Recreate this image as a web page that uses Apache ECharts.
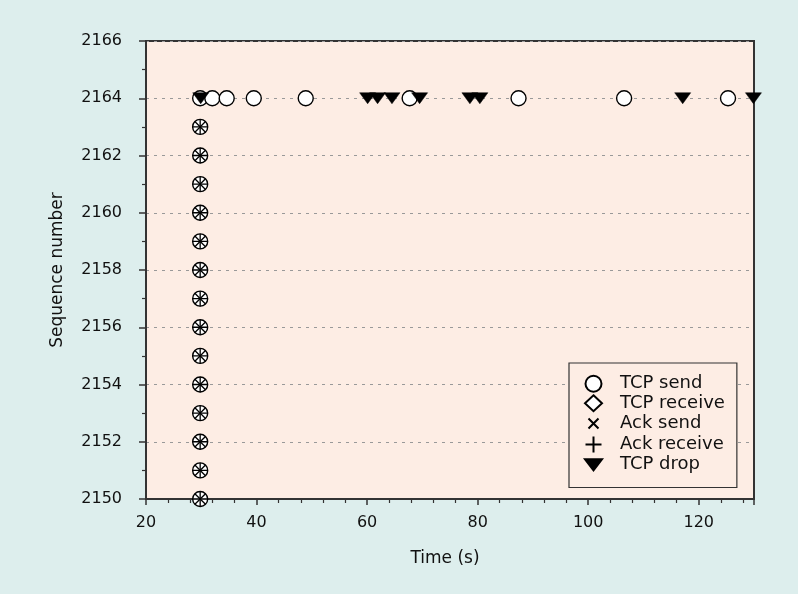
<!DOCTYPE html>
<html>
<head>
<meta charset="utf-8">
<script src="https://cdn.jsdelivr.net/npm/echarts@6/dist/echarts.min.js"></script>
<style>
html,body{margin:0;padding:0;background:#ddeeed;}
#chart{width:798px;height:594px;}
</style>
</head>
<body>
<div id="chart"></div>
<script>
// Data
var columnTime = 29.8;
var columnSeqs = [2150, 2151, 2152, 2153, 2154, 2155, 2156, 2157, 2158, 2159, 2160, 2161, 2162, 2163];
var sendTimes = [29.8, 32.0, 34.6, 39.5, 48.9, 67.7, 87.4, 106.5, 125.3];
var sendSeq = 2164;
var dropTimes = [29.9, 60.1, 61.9, 64.5, 69.5, 78.6, 80.4, 117.1, 129.9];
var dropSeq = 2164;
var xTicks = [20, 40, 60, 80, 100, 120];
var yTicks = [2150, 2152, 2154, 2156, 2158, 2160, 2162, 2164, 2166];

var columnPts = columnSeqs.map(function (s) { return [columnTime, s]; });
var sendPts = columnPts.concat(sendTimes.map(function (t) { return [t, sendSeq]; }));
var dropPts = dropTimes.map(function (t) { return [t, dropSeq]; });

var FONT = 'DejaVu Sans';
var chart = echarts.init(document.getElementById('chart'), null, {renderer: 'canvas'});
var option = {
  backgroundColor: '#ddeeed',
  animation: false,
  textStyle: {fontFamily: FONT},
  grid: {left: 146, top: 41, right: 44, bottom: 95, show: true, backgroundColor: '#fdede4', borderColor: '#333', borderWidth: 2},
  xAxis: {
    type: 'value', min: 20, max: 130, interval: 20,
    name: 'Time (s)', nameLocation: 'middle', nameGap: 51,
    nameTextStyle: {fontSize: 17, color: '#111', fontFamily: FONT, padding: [0, 10, 0, 0]},
    axisLine: {show: true, onZero: false, lineStyle: {color: '#333', width: 2}},
    axisTick: {show: true, inside: false, length: 6, lineStyle: {color: '#333', width: 1.5}},
    minorTick: {show: true, splitNumber: 5, length: 4, lineStyle: {color: '#333', width: 1.2}},
    axisLabel: {fontSize: 16, color: '#111', margin: 16, fontFamily: FONT,
      formatter: function (v) { return xTicks.indexOf(v) >= 0 ? String(v) : ''; }},
    splitLine: {show: false}
  },
  yAxis: {
    type: 'value', min: 2150, max: 2166, interval: 2,
    name: 'Sequence number', nameLocation: 'middle', nameGap: 80,
    nameTextStyle: {fontSize: 17, color: '#111', fontFamily: FONT},
    axisLine: {show: true, onZero: false, lineStyle: {color: '#333', width: 2}},
    axisTick: {show: true, inside: false, length: 7, lineStyle: {color: '#333', width: 1.5}},
    minorTick: {show: true, splitNumber: 2, length: 4, lineStyle: {color: '#333', width: 1.2}},
    axisLabel: {fontSize: 16, color: '#111', margin: 24, fontFamily: FONT,
      formatter: function (v) { return yTicks.indexOf(v) >= 0 ? String(v) : ''; }},
    splitLine: {show: true, lineStyle: {color: '#999', type: [3, 5], width: 1.2}}
  },
  legend: {
    orient: 'vertical', left: 569, top: 363,
    padding: [11, 12, 13, 14], itemGap: 0, itemWidth: 17, itemHeight: 16,
    backgroundColor: '#fdede4', borderColor: '#333', borderWidth: 1.2, borderRadius: 0,
    textStyle: {fontSize: 18, lineHeight: 19.5, height: 19.5, color: '#111', fontFamily: FONT, padding: [0, 0, 0, 13]},
    data: ['TCP send', 'TCP receive', 'Ack send', 'Ack receive', 'TCP drop']
  },
  series: [
    {
      name: 'TCP receive', type: 'scatter', data: columnPts, z: 2,
      symbol: 'diamond', symbolSize: 14,
      itemStyle: {color: '#fff', borderColor: '#000', borderWidth: 1.3, opacity: 1}
    },
    {
      name: 'TCP send', type: 'scatter', data: sendPts, z: 3,
      symbol: 'circle', symbolSize: 15,
      itemStyle: {color: '#fff', borderColor: '#000', borderWidth: 1.4, opacity: 1}
    },
    {
      name: 'Ack send', type: 'scatter', data: columnPts, z: 4,
      symbol: 'path://M-3,-3M0,0L10,10M10,0L0,10M13,13', symbolSize: 17,
      itemStyle: {color: 'none', borderColor: '#000', borderWidth: 1.3, opacity: 1}
    },
    {
      name: 'Ack receive', type: 'scatter', data: columnPts, z: 5,
      symbol: 'path://M5,0L5,10M0,5L10,5', symbolSize: 15,
      itemStyle: {color: 'none', borderColor: '#000', borderWidth: 1.3, opacity: 1}
    },
    {
      name: 'TCP drop', type: 'scatter', data: dropPts, z: 6,
      symbol: 'path://M0,0L20,0L10,13Z', symbolSize: [16, 11],
      itemStyle: {color: '#000', borderColor: '#000', borderWidth: 0.5, opacity: 1}
    }
  ]
};
chart.setOption(option);
</script>
</body>
</html>
